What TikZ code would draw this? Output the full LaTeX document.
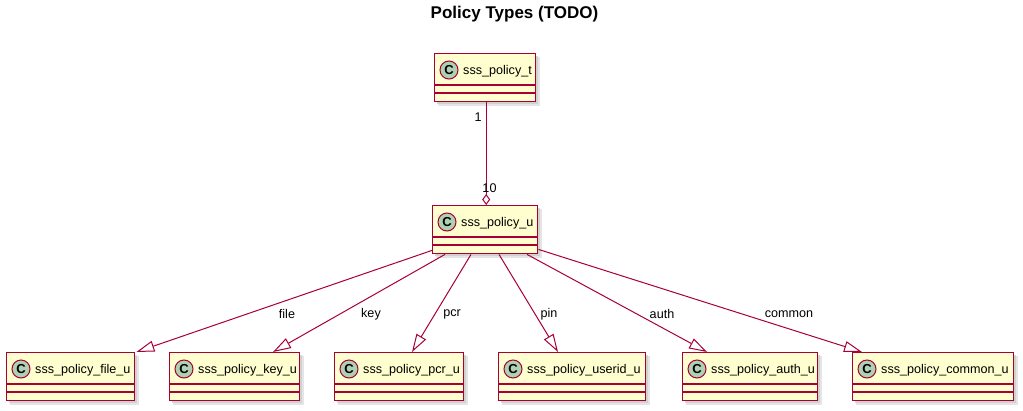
\documentclass[tikz,border=0pt]{standalone}
\usepackage{fontspec}
\setmainfont{Liberation Sans}
\usetikzlibrary{arrows.meta,calc}
\definecolor{umlborder}{HTML}{A80036}
\definecolor{umlfill}{HTML}{FEFECE}
\definecolor{umlbadge}{HTML}{ADD1B2}
\tikzset{
  classbox/.style={draw=umlborder, fill=umlfill, line width=1.4pt, inner sep=0pt, rectangle},
  divline/.style={draw=umlborder, line width=1.4pt},
  cbadge/.style={circle, draw=umlborder, fill=umlbadge, line width=1pt, minimum size=18pt, inner sep=0pt, font=\fontsize{13}{13}\selectfont\bfseries},
  classname/.style={anchor=base west, inner sep=0pt, font=\fontsize{12.6}{14}\selectfont},
  conn/.style={draw=umlborder, line width=1pt},
  gen/.style={conn, -{Triangle[length=18pt, width=11pt, fill=white, line width=1pt]}},
  agg/.style={conn, {Diamond[length=11pt, width=8pt, fill=white, line width=1pt]}-},
  lbl/.style={inner sep=0pt, font=\fontsize{12.6}{14}\selectfont},
}
\newcommand{\umlclass}[5]{%
  \fill[black!30, opacity=0.5] ({#2+3},{#3+3}) rectangle ({#4+3},{#3+51});
  \fill[black!20, opacity=0.5] ({#2+4},{#3+4}) rectangle ({#4+5},{#3+53});
  \node[classbox, minimum width={#4pt-#2pt}, minimum height=48pt, anchor=north west] (#1) at (#2,#3) {};
  \draw[divline] ($(#1.north west)+(0,32)$) -- ($(#1.north east)+(0,32)$);
  \draw[divline] ($(#1.north west)+(0,40)$) -- ($(#1.north east)+(0,40)$);
  \node[cbadge] (#1-c) at ($(#1.north west)+(15,17)$) {C};
  \node[classname] (#1-n) at ($(#1.north west)+(29,21.5)$) {#5};
}
\begin{document}
\begin{tikzpicture}[x=1pt, y=-1pt]
\fill[white] (0,0) rectangle (1023,410);
\useasboundingbox (0,0) rectangle (1023,410);
\node[inner sep=0pt, font=\fontsize{17}{20}\selectfont\bfseries] (title) at (514.5,14.5) {Policy Types (TODO)};

\umlclass{t}{434}{53}{535}{sss\_policy\_t}
\umlclass{u}{432}{205}{537}{sss\_policy\_u}
\umlclass{file}{6}{352}{134}{sss\_policy\_file\_u}
\umlclass{key}{169}{352}{299}{sss\_policy\_key\_u}
\umlclass{pcr}{334}{352}{463}{sss\_policy\_pcr\_u}
\umlclass{userid}{498}{352}{645}{sss\_policy\_userid\_u}
\umlclass{auth}{682}{352}{817}{sss\_policy\_auth\_u}
\umlclass{common}{852}{352}{1013}{sss\_policy\_common\_u}

\draw[agg] ($(u.north)+(1,0)$) -- ($(t.south)+(1,0)$);
\node[lbl] (m1) at (478,117) {1};
\node[lbl] (m10) at (489.5,188.5) {10};

\draw[gen] ($(u.south west)+(0,-4)$) -- ($(file.north east)+(1,0)$);
\draw[gen] ($(u.south west)+(13,0)$) -- ($(key.north west)+(104,0)$);
\draw[gen] ($(u.south west)+(39,0)$) -- ($(pcr.north west)+(78,0)$);
\draw[gen] ($(u.south west)+(67,0)$) -- ($(userid.north west)+(60,0)$);
\draw[gen] ($(u.south west)+(95,0)$) -- ($(auth.north west)+(25,0)$);
\draw[gen] ($(u.south east)+(0,-5)$) -- ($(common.north west)+(10,0)$);

\node[lbl] (lfile) at (287,314) {file};
\node[lbl] (lkey) at (371,314) {key};
\node[lbl] (lpcr) at (452,314) {pcr};
\node[lbl] (lpin) at (549,314) {pin};
\node[lbl] (lauth) at (662,314) {auth};
\node[lbl] (lcommon) at (789,314) {common};
\end{tikzpicture}
\end{document}
